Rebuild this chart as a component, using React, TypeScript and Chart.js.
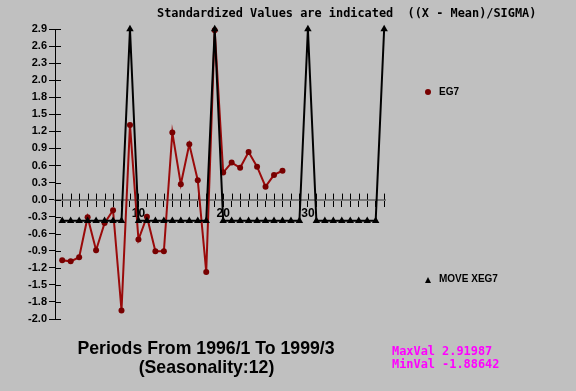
import React, { useEffect, useRef } from "react";
import { Chart, registerables } from "chart.js";

Chart.register(...registerables);

// ---- data ----
const periods = [
  1, 2, 3, 4, 5, 6, 7, 8, 9, 10, 11, 12, 13, 14, 15, 16, 17, 18, 19, 20,
  21, 22, 23, 24, 25, 26, 27, 28, 29, 30, 31, 32, 33, 34, 35, 36, 37, 38, 39,
];
const eg7Values = [
  -1.03, -1.05, -0.98, -0.3, -0.86, -0.4, -0.18, -1.886, 1.27, -0.68,
  -0.29, -0.88, -0.88, 1.14, 0.26, 0.94, 0.33, -1.23, 2.88, 0.46,
  0.63, 0.54, 0.81, 0.56, 0.22, 0.42, 0.49,
];
const moveXeg7Values = [
  -0.36, -0.36, -0.36, -0.36, -0.36, -0.36, -0.36, -0.36, 2.9,
  -0.36, -0.36, -0.36, -0.36, -0.36, -0.36, -0.36, -0.36, -0.36, 2.9,
  -0.36, -0.36, -0.36, -0.36, -0.36, -0.36, -0.36, -0.36, -0.36, -0.36, 2.9,
  -0.36, -0.36, -0.36, -0.36, -0.36, -0.36, -0.36, -0.36, 2.9,
];
const yTickLabels = [
  "2.9", "2.6", "2.3", "2.0", "1.8", "1.5", "1.2", "0.9", "0.6", "0.3",
  "0.0", "-0.3", "-0.6", "-0.9", "-1.2", "-1.5", "-1.8", "-2.0",
];
const yTop = 2.9;
const yStep = 0.29;
const xTickLabels = [10, 20, 30];

const titleText = "Standardized Values are indicated  ((X - Mean)/SIGMA)";
const footLine1 = "Periods From 1996/1 To 1999/3";
const footLine2 = "(Seasonality:12)";
const maxValText = "MaxVal 2.91987";
const minValText = "MinVal -1.88642";
const seriesNames = ["EG7", "MOVE XEG7"];

const crossTicks = {
  id: "crossTicks",
  beforeDatasetsDraw(chart: any) {
    const ctx = chart.ctx;
    const xs = chart.scales.x;
    const ys = chart.scales.y;
    const y0 = ys.getPixelForValue(0);
    ctx.save();
    ctx.strokeStyle = "#000";
    ctx.lineWidth = 1;
    ctx.beginPath();
    xs.ticks.forEach((t: any) => {
      const px = Math.round(xs.getPixelForValue(t.value)) + 0.5;
      ctx.moveTo(px, y0 - 6);
      ctx.lineTo(px, y0);
    });
    ys.ticks.forEach((t: any) => {
      const py = Math.round(ys.getPixelForValue(t.value)) + 0.5;
      ctx.moveTo(chart.chartArea.left, py);
      ctx.lineTo(chart.chartArea.left + 6, py);
    });
    ctx.stroke();
    ctx.restore();
  },
};

export default function App() {
  const ref = useRef<HTMLCanvasElement>(null);

  useEffect(() => {
    document.body.style.margin = "0";
    const canvas = ref.current;
    if (!canvas) return;
    const chart = new Chart(canvas, {
      type: "line",
      data: {
        datasets: [
          {
            label: seriesNames[1],
            data: moveXeg7Values.map((v, i) => ({ x: periods[i], y: v })),
            borderColor: "#000000",
            backgroundColor: "#000000",
            borderWidth: 2,
            pointStyle: "triangle",
            pointRadius: 4.3,
            pointBorderWidth: 0,
            tension: 0,
            clip: false as any,
          },
          {
            label: seriesNames[0],
            data: eg7Values.map((v, i) => ({ x: periods[i], y: v })),
            borderColor: "#9a0a0a",
            backgroundColor: "#780000",
            borderWidth: 2,
            pointStyle: "circle",
            pointRadius: 3,
            pointBorderWidth: 0,
            tension: 0,
            clip: false as any,
          },
        ],
      },
      options: {
        animation: false,
        responsive: false,
        devicePixelRatio: 1,
        layout: { padding: { left: 0, right: 191, top: 29, bottom: 72 } },
        plugins: { legend: { display: false }, tooltip: { enabled: false } },
        scales: {
          x: {
            type: "linear",
            position: { y: 0 } as any,
            min: 0.15,
            max: 39.1,
            afterBuildTicks: (scale: any) => {
              scale.ticks = periods.map((p) => ({ value: p }));
            },
            grid: {
              drawOnChartArea: false,
              drawTicks: true,
              tickLength: 6,
              color: "#000000",
            },
            border: { display: true, color: "#7a7a7a", width: 2 },
            ticks: {
              autoSkip: false,
              maxRotation: 0,
              padding: 1,
              color: "#000000",
              font: { family: "Liberation Sans, Arial", size: 12, weight: "bold" },
              callback: (v: any) => (xTickLabels.includes(Number(v)) ? String(v) : ""),
            },
          },
          y: {
            type: "linear",
            min: yTop - yStep * (yTickLabels.length - 1),
            max: yTop,
            afterFit: (scale: any) => {
              scale.width = 55;
            },
            afterBuildTicks: (scale: any) => {
              scale.ticks = yTickLabels.map((_, i) => ({ value: yTop - i * yStep }));
            },
            grid: {
              drawOnChartArea: false,
              drawTicks: true,
              tickLength: 6,
              color: "#000000",
            },
            border: { display: true, color: "#000000", width: 1 },
            ticks: {
              autoSkip: false,
              padding: 2,
              color: "#000000",
              font: { family: "Liberation Sans, Arial", size: 11, weight: "bold" },
              callback: (_v: any, i: number) => yTickLabels[i],
            },
          },
        },
      },
      plugins: [crossTicks],
    });
    return () => chart.destroy();
  }, []);

  const abs = (extra: React.CSSProperties): React.CSSProperties => ({
    position: "absolute",
    whiteSpace: "pre",
    margin: 0,
    ...extra,
  });

  return (
    <div
      style={{
        position: "fixed",
        left: 0,
        top: 0,
        width: 576,
        height: 391,
        background: "#c0c0c0",
        overflow: "hidden",
      }}
    >
      <canvas ref={ref} width={576} height={391} style={{ position: "absolute", left: 0, top: 0 }} />
      <div
        style={abs({
          left: 157,
          top: 6,
          lineHeight: "14px",
          font: "bold 11.9px 'DejaVu Sans Mono', monospace",
          color: "#000",
        })}
      >
        {titleText}
      </div>
      {/* legend */}
      <div style={abs({ left: 425, top: 89, width: 6, height: 6, borderRadius: 3, background: "#780000" })} />
      <div
        style={abs({
          left: 439,
          top: 86,
          lineHeight: "14px",
          font: "bold 10px 'Liberation Sans', Arial, sans-serif",
          color: "#000",
        })}
      >
        {seriesNames[0]}
      </div>
      <div
        style={abs({
          left: 425,
          top: 277,
          width: 0,
          height: 0,
          borderLeft: "3.5px solid transparent",
          borderRight: "3.5px solid transparent",
          borderBottom: "6px solid #000",
        })}
      />
      <div
        style={abs({
          left: 439,
          top: 273,
          lineHeight: "14px",
          font: "bold 10px 'Liberation Sans', Arial, sans-serif",
          color: "#000",
        })}
      >
        {seriesNames[1]}
      </div>
      {/* footer */}
      <div
        style={abs({
          left: 0,
          width: 412,
          top: 338,
          textAlign: "center",
          lineHeight: "20px",
          font: "bold 17.7px 'Liberation Sans', Arial, sans-serif",
          color: "#000",
        })}
      >
        {footLine1}
      </div>
      <div
        style={abs({
          left: 0,
          width: 413,
          top: 357,
          textAlign: "center",
          lineHeight: "20px",
          font: "bold 17.7px 'Liberation Sans', Arial, sans-serif",
          color: "#000",
        })}
      >
        {footLine2}
      </div>
      <div
        style={abs({
          left: 392,
          top: 344,
          lineHeight: "14px",
          font: "bold 11.9px 'DejaVu Sans Mono', monospace",
          color: "#ff00ff",
        })}
      >
        {maxValText}
      </div>
      <div
        style={abs({
          left: 392,
          top: 357,
          lineHeight: "14px",
          font: "bold 11.9px 'DejaVu Sans Mono', monospace",
          color: "#ff00ff",
        })}
      >
        {minValText}
      </div>
    </div>
  );
}
